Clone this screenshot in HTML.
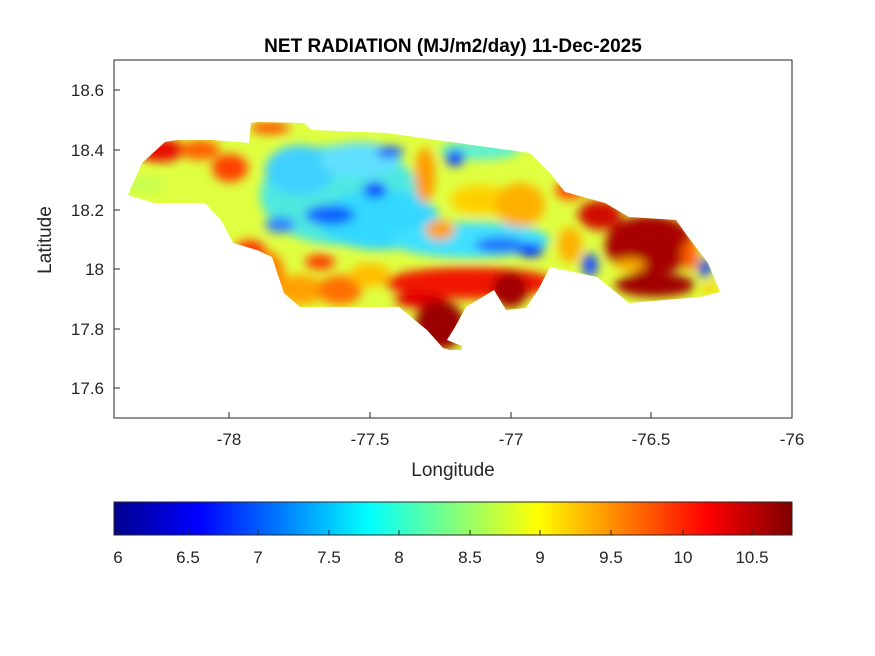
<!DOCTYPE html>
<html><head><meta charset="utf-8"><style>
body{margin:0;background:#fff;}
svg{display:block;font-family:"Liberation Sans",Arial,sans-serif;}
</style></head><body>
<svg width="875" height="656" viewBox="0 0 875 656" xmlns="http://www.w3.org/2000/svg">
<defs>
<clipPath id="jm"><polygon points="130,190 142,163 165,142 177,140 213,140 249,143 251,123 257,122 304,123 312,130 387,133 530,153 550,173 565,192 605,203 629,217 676,220 688,237 708,263 720,292 700,297 629,303 597,277 550,267 538,290 526,308 506,310 494,290 466,307 455,327 447,340 462,346 462,350 450,350 443,348 427,330 411,317 399,307 300,307 284,293 272,257 257,250 233,243 221,220 205,203 154,203 128,195"/></clipPath>
<filter id="bl" x="-20%" y="-20%" width="140%" height="140%"><feGaussianBlur stdDeviation="5"/></filter>
<linearGradient id="jet" x1="0" x2="1" y1="0" y2="0">
<stop offset="0" stop-color="#00008f"/><stop offset="0.125" stop-color="#0000ff"/><stop offset="0.375" stop-color="#00ffff"/><stop offset="0.625" stop-color="#ffff00"/><stop offset="0.875" stop-color="#ff0000"/><stop offset="1" stop-color="#800000"/>
</linearGradient>
</defs>
<rect x="114" y="60" width="678" height="358" fill="#fff" stroke="#262626" stroke-width="1"/>
<g clip-path="url(#jm)">
<rect x="110" y="110" width="640" height="250" fill="#e0ff40"/>
<g filter="url(#bl)">
<ellipse cx="340" cy="195" rx="80" ry="50" fill="#50e8e0"/>
<ellipse cx="380" cy="220" rx="60" ry="30" fill="#30d8ff"/>
<ellipse cx="470" cy="240" rx="80" ry="18" fill="#40e0ff"/>
<ellipse cx="300" cy="170" rx="35" ry="25" fill="#40d0ff"/>
<ellipse cx="360" cy="160" rx="40" ry="18" fill="#60e0ff"/>
<ellipse cx="480" cy="150" rx="40" ry="10" fill="#60f0d0"/>
<ellipse cx="330" cy="215" rx="25" ry="10" fill="#1060ff"/>
<ellipse cx="280" cy="225" rx="15" ry="8" fill="#3080ff"/>
<ellipse cx="375" cy="190" rx="12" ry="8" fill="#1040ff"/>
<ellipse cx="390" cy="152" rx="14" ry="6" fill="#2060ff"/>
<ellipse cx="455" cy="158" rx="10" ry="8" fill="#1040ff"/>
<ellipse cx="530" cy="250" rx="14" ry="7" fill="#0030ff"/>
<ellipse cx="500" cy="245" rx="25" ry="8" fill="#2070ff"/>
<ellipse cx="590" cy="265" rx="8" ry="12" fill="#2050ff"/>
<ellipse cx="705" cy="268" rx="6" ry="10" fill="#1040ff"/>
<ellipse cx="425" cy="175" rx="10" ry="28" fill="#ff9a00"/>
<ellipse cx="440" cy="230" rx="15" ry="10" fill="#ffa000"/>
<ellipse cx="480" cy="200" rx="30" ry="15" fill="#ffd000"/>
<ellipse cx="520" cy="205" rx="25" ry="22" fill="#ffb000"/>
<ellipse cx="160" cy="150" rx="25" ry="12" fill="#e81000"/>
<ellipse cx="200" cy="150" rx="20" ry="10" fill="#ff6000"/>
<ellipse cx="230" cy="168" rx="18" ry="14" fill="#ff4000"/>
<ellipse cx="270" cy="128" rx="20" ry="6" fill="#ff5000"/>
<ellipse cx="145" cy="185" rx="20" ry="10" fill="#c8ff50"/>
<ellipse cx="265" cy="275" rx="20" ry="25" fill="#ff8000"/>
<ellipse cx="250" cy="250" rx="15" ry="10" fill="#ff3000"/>
<ellipse cx="300" cy="290" rx="25" ry="15" fill="#ffa000"/>
<ellipse cx="340" cy="290" rx="22" ry="15" fill="#ff7000"/>
<ellipse cx="370" cy="275" rx="20" ry="12" fill="#ffc000"/>
<ellipse cx="320" cy="262" rx="15" ry="8" fill="#ff4000"/>
<ellipse cx="470" cy="283" rx="85" ry="16" fill="#f01800"/>
<ellipse cx="420" cy="300" rx="25" ry="8" fill="#e00000"/>
<ellipse cx="440" cy="325" rx="25" ry="25" fill="#9a0000"/>
<ellipse cx="510" cy="290" rx="18" ry="18" fill="#a00000"/>
<ellipse cx="570" cy="190" rx="15" ry="10" fill="#ff5000"/>
<ellipse cx="600" cy="215" rx="22" ry="15" fill="#d01000"/>
<ellipse cx="650" cy="245" rx="45" ry="30" fill="#a80000"/>
<ellipse cx="655" cy="285" rx="40" ry="12" fill="#a00000"/>
<ellipse cx="630" cy="265" rx="15" ry="6" fill="#ffb000"/>
<ellipse cx="690" cy="255" rx="8" ry="15" fill="#ff6000"/>
<ellipse cx="710" cy="288" rx="8" ry="6" fill="#ffd000"/>
<ellipse cx="570" cy="245" rx="12" ry="18" fill="#ffb000"/>
</g>
</g>
<g font-size="17" fill="#262626" text-anchor="end">
<text x="104" y="96">18.6</text><text x="104" y="156">18.4</text><text x="104" y="216">18.2</text>
<text x="104" y="275">18</text><text x="104" y="335">17.8</text><text x="104" y="394">17.6</text>
</g>
<g stroke="#262626">
<line x1="114" y1="90" x2="120" y2="90"/><line x1="114" y1="150" x2="120" y2="150"/><line x1="114" y1="210" x2="120" y2="210"/><line x1="114" y1="269" x2="120" y2="269"/><line x1="114" y1="329" x2="120" y2="329"/><line x1="114" y1="388" x2="120" y2="388"/>
<line x1="229" y1="418" x2="229" y2="412"/><line x1="370" y1="418" x2="370" y2="412"/><line x1="511" y1="418" x2="511" y2="412"/><line x1="651" y1="418" x2="651" y2="412"/>
</g>
<g font-size="17" fill="#262626" text-anchor="middle">
<text x="229" y="445">-78</text><text x="370" y="445">-77.5</text><text x="511" y="445">-77</text><text x="651" y="445">-76.5</text><text x="792" y="445">-76</text>
<text x="453" y="476" font-size="19">Longitude</text>
<text x="453" y="52" font-size="19" font-weight="bold" fill="#000">NET RADIATION (MJ/m2/day) 11-Dec-2025</text>
<text transform="translate(51,240) rotate(-90)" font-size="19">Latitude</text>
</g>
<rect x="114" y="502" width="678" height="33" fill="url(#jet)" stroke="#262626"/>
<g stroke="#262626">
<line x1="118" y1="535" x2="118" y2="530"/><line x1="188" y1="535" x2="188" y2="530"/><line x1="258" y1="535" x2="258" y2="530"/><line x1="329" y1="535" x2="329" y2="530"/><line x1="399" y1="535" x2="399" y2="530"/><line x1="470" y1="535" x2="470" y2="530"/><line x1="540" y1="535" x2="540" y2="530"/><line x1="611" y1="535" x2="611" y2="530"/><line x1="683" y1="535" x2="683" y2="530"/><line x1="752" y1="535" x2="752" y2="530"/>
</g>
<g font-size="17" fill="#262626" text-anchor="middle">
<text x="118" y="563">6</text><text x="188" y="563">6.5</text><text x="258" y="563">7</text><text x="329" y="563">7.5</text><text x="399" y="563">8</text><text x="470" y="563">8.5</text><text x="540" y="563">9</text><text x="611" y="563">9.5</text><text x="683" y="563">10</text><text x="752" y="563">10.5</text>
</g>
</svg>
</body></html>
